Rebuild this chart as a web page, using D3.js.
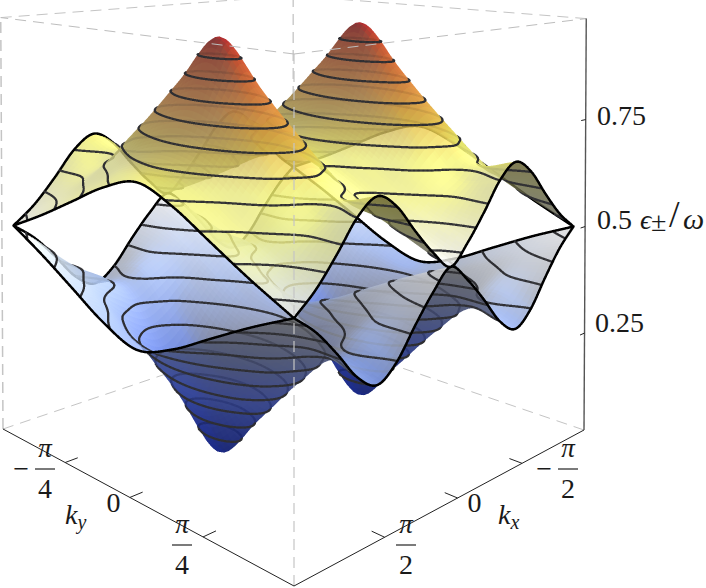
<!DOCTYPE html>
<html><head><meta charset="utf-8">
<script src="https://cdnjs.cloudflare.com/ajax/libs/d3/7.8.5/d3.min.js"></script>
<style>html,body{margin:0;padding:0;background:#fff}svg{display:block}text{font-family:"Liberation Serif",serif;fill:#1a1a1a}</style>
</head><body><div id="chart"></div>
<script>
// ---- data: energy on a kx / ky grid ----
const PI = Math.PI;
const kxValues = [-1,-.875,-.75,-.625,-.5,-.375,-.25,-.125,0,.125,.25,.375,.5,.625,.75,.875,1];   // units of pi
const kyValues = [-.5,-.375,-.25,-.125,0,.125,.25,.375,.5];                                       // units of pi
const upper0 = [.500,.540,.595,.655,.685,.655,.595,.540,.500,.540,.595,.655,.685,.655,.595,.540,.500];
const upper1 = [.545,.575,.610,.635,.665,.635,.610,.575,.545,.575,.610,.635,.665,.635,.610,.575,.545];
const upper2 = [.595,.625,.675,.725,.750,.725,.675,.625,.595,.625,.675,.725,.750,.725,.675,.625,.595];
const upper3 = [.645,.680,.735,.810,.860,.810,.735,.680,.645,.680,.735,.810,.860,.810,.735,.680,.645];
const upper4 = [.675,.700,.760,.860,.960,.860,.760,.700,.675,.700,.760,.860,.960,.860,.760,.700,.675];
const upper5 = [.645,.680,.735,.810,.860,.810,.735,.680,.645,.680,.735,.810,.860,.810,.735,.680,.645];
const upper6 = [.595,.625,.675,.725,.750,.725,.675,.625,.595,.625,.675,.725,.750,.725,.675,.625,.595];
const upper7 = [.545,.575,.610,.635,.665,.635,.610,.575,.545,.575,.610,.635,.665,.635,.610,.575,.545];
const upper8 = [.500,.540,.595,.655,.685,.655,.595,.540,.500,.540,.595,.655,.685,.655,.595,.540,.500];
const lower0 = [.500,.460,.405,.345,.315,.345,.405,.460,.500,.460,.405,.345,.315,.345,.405,.460,.500];
const lower1 = [.455,.425,.390,.365,.335,.365,.390,.425,.455,.425,.390,.365,.335,.365,.390,.425,.455];
const lower2 = [.405,.375,.325,.275,.250,.275,.325,.375,.405,.375,.325,.275,.250,.275,.325,.375,.405];
const lower3 = [.355,.320,.265,.190,.140,.190,.265,.320,.355,.320,.265,.190,.140,.190,.265,.320,.355];
const lower4 = [.325,.300,.240,.140,.040,.140,.240,.300,.325,.300,.240,.140,.040,.140,.240,.300,.325];
const lower5 = [.355,.320,.265,.190,.140,.190,.265,.320,.355,.320,.265,.190,.140,.190,.265,.320,.355];
const lower6 = [.405,.375,.325,.275,.250,.275,.325,.375,.405,.375,.325,.275,.250,.275,.325,.375,.405];
const lower7 = [.455,.425,.390,.365,.335,.365,.390,.425,.455,.425,.390,.365,.335,.365,.390,.425,.455];
const lower8 = [.500,.460,.405,.345,.315,.345,.405,.460,.500,.460,.405,.345,.315,.345,.405,.460,.500];
const meshLevels = [.0838,.1276,.1714,.2152,.2590,.3029,.3467,.3905,.4343,.4781,
                    .5219,.5657,.6095,.6533,.6971,.7410,.7848,.8286,.8724,.9162];
const zTicks = [.25,.5,.75];
const zTickLabels = ["0.25","0.5","0.75"];
const kxTicks = [-PI/2,0,PI/2];
const kyTicks = [-PI/4,0,PI/4];
const colorStops = [.04,.2,.35,.45,.5,.55,.6,.67,.73,.82,.92,.96];
const colorValues = ["#2c3caa","#5070dc","#a5bffa","#dde8ff","#ffffff","#ffffc4","#ffff8c","#ffff78","#f0d050","#e69040","#d2502d","#be282d"];
const underStops = [.04,.2,.35,.45,.5,.6,.68,.8,.96];
const underValues = ["#0a1978","#2c3c8c","#464e6e","#555864","#5f5f5a","#64643c","#5f5a28","#6e4a1e","#6e1e1e"];

// ---- layout ----
const W = 706, H = 588, SS = 3;
const P0 = [294,586], PX = [584,430], PY = [3,429], PZ = [294,54];
const wx = 1.294, wy = 1.294, wz = .99, zr = .8, surfaceAlpha = .8;

const X = d3.scaleLinear().domain([PI,-PI]).range([.02,.98]);
const Y = d3.scaleLinear().domain([PI/2,-PI/2]).range([.02,.98]);
const Z = d3.scaleLinear().domain([.0217,.985]).range([0,1]);
const color = d3.scaleLinear().domain(colorStops).range(colorValues).interpolate(d3.interpolateRgb);
const underColor = d3.scaleLinear().domain(underStops).range(underValues).interpolate(d3.interpolateRgb);

function project(a,b,c){
  const w = 1 + a*(wx-1) + b*(wy-1) + c*(wz-1);
  const hx = P0[0] + a*(wx*PX[0]-P0[0]) + b*(wy*PY[0]-P0[0]) + c*(wz*PZ[0]-P0[0]);
  const hy = P0[1] + a*(wx*PX[1]-P0[1]) + b*(wy*PY[1]-P0[1]) + c*(wz*PZ[1]-P0[1]);
  return [hx/w, hy/w];
}
const eye = (function(){
  const A = [[wx*PX[0]-P0[0], wy*PY[0]-P0[0], wz*PZ[0]-P0[0]],
             [wx*PX[1]-P0[1], wy*PY[1]-P0[1], wz*PZ[1]-P0[1]],
             [wx-1, wy-1, wz-1]];
  const r = [-P0[0], -P0[1], -1];
  const det = m => m[0][0]*(m[1][1]*m[2][2]-m[1][2]*m[2][1]) - m[0][1]*(m[1][0]*m[2][2]-m[1][2]*m[2][0]) + m[0][2]*(m[1][0]*m[2][1]-m[1][1]*m[2][0]);
  const D = det(A);
  return [0,1,2].map(k => det(A.map((row,i) => row.map((v,j) => j===k ? r[i] : v))) / D);
})();

// ---- smooth drawing mesh through the read values ----
function cr(a,b,c,d,t){ return .5*((2*b)+(-a+c)*t+(2*a-5*b+4*c-d)*t*t+(-a+3*b-3*c+d)*t*t*t); }
function refine(v,f){
  const out=[], n=v.length;
  for(let i=0;i<n-1;i++){
    const a = i>0 ? v[i-1] : 2*v[0]-v[1], d = i<n-2 ? v[i+2] : 2*v[n-1]-v[n-2];
    for(let k=0;k<f;k++) out.push(cr(a,v[i],v[i+1],d,k/f));
  }
  out.push(v[n-1]); return out;
}
const F = 8;
function refineGrid(rows){
  const r = rows.map(row => refine(row,F));
  const nx = r[0].length;
  const cols = d3.range(nx).map(i => refine(r.map(row => row[i]),F));
  return {nx, ny: cols[0].length, z:(i,j) => cols[i][j], cols};
}
const surfaces = [
  refineGrid([lower0,lower1,lower2,lower3,lower4,lower5,lower6,lower7,lower8]),
  refineGrid([upper0,upper1,upper2,upper3,upper4,upper5,upper6,upper7,upper8])
];
const kxFine = refine(kxValues,F).map(v=>v*PI), kyFine = refine(kyValues,F).map(v=>v*PI);

// ---- depth-sorted items ----
const dist = (a,b,c) => Math.hypot(a-eye[0], b-eye[1], (c-eye[2])*zr);
const items = [];
const L = (function(){ const v=[.55,-.55,.63], n=Math.hypot(...v); return v.map(d=>d/n); })();
surfaces.forEach(s => {
  const P = (i,j) => [X(kxFine[i]), Y(kyFine[j]), Z(s.z(i,j))];
  for(let i=0;i<s.nx-1;i++) for(let j=0;j<s.ny-1;j++){
    const a=P(i,j), b=P(i+1,j), c=P(i+1,j+1), d=P(i,j+1);
    const ux=c[0]-a[0],uy=c[1]-a[1],uz=(c[2]-a[2])*zr, vx=d[0]-b[0],vy=d[1]-b[1],vz=(d[2]-b[2])*zr;
    let nx=uy*vz-uz*vy, ny=uz*vx-ux*vz, nz=ux*vy-uy*vx;
    const m=Math.hypot(nx,ny,nz)||1; nx/=m;ny/=m;nz/=m; if(nz<0){nx=-nx;ny=-ny;nz=-nz;}
    const cx=(a[0]+c[0])/2, cy=(a[1]+c[1])/2, cz=(a[2]+b[2]+c[2]+d[2])/4;
    const face = nx*(eye[0]-cx)+ny*(eye[1]-cy)+nz*(eye[2]-cz)*zr;
    const lit = Math.max(0,nx*L[0]+ny*L[1]+nz*L[2]);
    const zval = (s.z(i,j)+s.z(i+1,j)+s.z(i+1,j+1)+s.z(i,j+1))/4;
    let R,G,B;
    if(face>0){
      const col=d3.rgb(color(zval));
      const lum=.3*col.r+.59*col.g+.11*col.b;
      const dim=Math.max(0,Math.min(1,(.48-lit)/.4))*(zval<.5?.75:.35);
      const shade=.82+.28*lit;
      R=(col.r+(lum-col.r)*dim)*shade; G=(col.g+(lum-col.g)*dim)*shade; B=(col.b+(lum-col.b)*dim)*shade;
    } else { const col=d3.rgb(underColor(zval)); R=col.r;G=col.g;B=col.b; }
    items.push({t:0, d:dist(cx,cy,cz), q:[project(...a),project(...b),project(...c),project(...d)],
      r:Math.min(255,R), g:Math.min(255,G), b:Math.min(255,B), a:surfaceAlpha});
  }
  const values = new Float64Array(s.nx*s.ny);
  for(let j=0;j<s.ny;j++) for(let i=0;i<s.nx;i++) values[i+j*s.nx]=s.z(i,j);
  const gen = d3.contours().size([s.nx,s.ny]).smooth(true);
  const gx = d3.scaleLinear().domain([.5,s.nx-.5]).range([-PI,PI]);
  const gy = d3.scaleLinear().domain([.5,s.ny-.5]).range([-PI/2,PI/2]);
  meshLevels.forEach(level => {
    const geo = gen.contour(values, level);
    geo.coordinates.forEach(poly => poly.forEach(ring => {
      for(let k=0;k<ring.length-1;k++){
        const p=ring[k], q=ring[k+1], e=1e-6;
        const out = u => u[0]<.5-e || u[0]>s.nx-.5+e || u[1]<.5-e || u[1]>s.ny-.5+e;
        if(out(p)||out(q)) continue;
        const A=[X(gx(p[0])),Y(gy(p[1])),Z(level)], B=[X(gx(q[0])),Y(gy(q[1])),Z(level)];
        items.push({t:1, d:dist((A[0]+B[0])/2,(A[1]+B[1])/2,A[2])-.022, a0:project(...A), b0:project(...B),
          w:1.15, r:46,g:46,b:50,a:.92});
      }
    }));
  });
  const edge=(A,B)=>items.push({t:1, d:dist((A[0]+B[0])/2,(A[1]+B[1])/2,(A[2]+B[2])/2)-.026, a0:project(...A), b0:project(...B), w:1.25, r:0,g:0,b:0,a:1});
  for(let i=0;i<s.nx-1;i++){ edge(P(i,0),P(i+1,0)); edge(P(i,s.ny-1),P(i+1,s.ny-1)); }
  for(let j=0;j<s.ny-1;j++){ edge(P(0,j),P(0,j+1)); edge(P(s.nx-1,j),P(s.nx-1,j+1)); }
});
items.sort((p,q)=>q.d-p.d);

// ---- supersampled raster so translucent cells have no seams ----
const BW=W*SS, BH=H*SS, buf=new Float32Array(BW*BH*4);
function blend(idx,r,g,b,a){ const ia=1-a; buf[idx]=r*a+buf[idx]*ia; buf[idx+1]=g*a+buf[idx+1]*ia; buf[idx+2]=b*a+buf[idx+2]*ia; buf[idx+3]=a+buf[idx+3]*ia; }
function tri(p,q,s,it){
  const x0=p[0]*SS,y0=p[1]*SS,x1=q[0]*SS,y1=q[1]*SS,x2=s[0]*SS,y2=s[1]*SS;
  const area=(x1-x0)*(y2-y0)-(y1-y0)*(x2-x0); if(area===0) return; const sg=area>0?1:-1;
  const minX=Math.max(0,Math.floor(Math.min(x0,x1,x2))), maxX=Math.min(BW-1,Math.ceil(Math.max(x0,x1,x2)));
  const minY=Math.max(0,Math.floor(Math.min(y0,y1,y2))), maxY=Math.min(BH-1,Math.ceil(Math.max(y0,y1,y2)));
  for(let y=minY;y<=maxY;y++) for(let x=minX;x<=maxX;x++){
    const px=x+.5,py=y+.5;
    if(sg*((x1-x0)*(py-y0)-(y1-y0)*(px-x0))>0 && sg*((x2-x1)*(py-y1)-(y2-y1)*(px-x1))>0 && sg*((x0-x2)*(py-y2)-(y0-y2)*(px-x2))>0)
      blend((x+y*BW)*4,it.r,it.g,it.b,it.a);
  }
}
function capsule(it){
  const ax=it.a0[0]*SS,ay=it.a0[1]*SS,bx=it.b0[0]*SS,by=it.b0[1]*SS,rad=it.w*SS;
  const dx=bx-ax,dy=by-ay,len2=dx*dx+dy*dy||1e-9;
  const minX=Math.max(0,Math.floor(Math.min(ax,bx)-rad)),maxX=Math.min(BW-1,Math.ceil(Math.max(ax,bx)+rad));
  const minY=Math.max(0,Math.floor(Math.min(ay,by)-rad)),maxY=Math.min(BH-1,Math.ceil(Math.max(ay,by)+rad));
  for(let y=minY;y<=maxY;y++) for(let x=minX;x<=maxX;x++){
    const px=x+.5-ax,py=y+.5-ay; let t=(px*dx+py*dy)/len2; t=t<0?0:t>1?1:t;
    const ex=px-t*dx,ey=py-t*dy;
    if(ex*ex+ey*ey<=rad*rad) blend((x+y*BW)*4,it.r,it.g,it.b,it.a);
  }
}
items.forEach(it=>{ if(it.t===0){ tri(it.q[0],it.q[1],it.q[2],it); tri(it.q[0],it.q[2],it.q[3],it);} else capsule(it); });
const canvas=document.createElement("canvas"); canvas.width=W; canvas.height=H;
const ctx=canvas.getContext("2d"), img=ctx.createImageData(W,H);
for(let y=0;y<H;y++) for(let x=0;x<W;x++){
  let r=0,g=0,b=0,a=0;
  for(let v=0;v<SS;v++) for(let u=0;u<SS;u++){ const i=((x*SS+u)+(y*SS+v)*BW)*4; r+=buf[i];g+=buf[i+1];b+=buf[i+2];a+=buf[i+3]; }
  const k=(x+y*W)*4, n=SS*SS;
  if(a>0){ img.data[k]=r/a; img.data[k+1]=g/a; img.data[k+2]=b/a; img.data[k+3]=255*a/n; }
}
ctx.putImageData(img,0,0);

// ---- svg: box, surface image, axes, text ----
const svg=d3.select("#chart").append("svg").attr("width",W).attr("height",H).attr("viewBox",[0,0,W,H]);
const line=d3.line();
const seg=(g,a,b,col,w,dash)=>g.append("path").attr("d",line([project(...a),project(...b)])).attr("fill","none").attr("stroke",col).attr("stroke-width",w).attr("stroke-dasharray",dash||null);
const back=svg.append("g");
const D1="11 7";
seg(back,[1,0,1],[1,1,1],"#c4c4c4",1,D1);
seg(back,[0,1,1],[1,1,1],"#c4c4c4",1,D1);
seg(back,[1,1,0],[1,1,1],"#c4c4c4",1.3,D1);
seg(back,[1,0,0],[1,1,0],"#c4c4c4",1,D1);
seg(back,[0,1,0],[1,1,0],"#c4c4c4",1,D1);
seg(back,[0,1,0],[0,1,1],"#c4c4c4",1.5,D1);
svg.append("image").attr("width",W).attr("height",H).attr("href",canvas.toDataURL("image/png"));
const front=svg.append("g");
seg(front,[0,0,0],[0,0,1],"#c4c4c4",1.5,D1).attr("opacity",.8);
seg(front,[0,0,1],[1,0,1],"#bdbdbd",1,D1);
seg(front,[0,0,1],[0,1,1],"#bdbdbd",1,D1);
seg(front,[0,0,0],[1,0,0],"#222",1);
seg(front,[0,0,0],[0,1,0],"#222",1);
seg(front,[1,0,0],[1,0,1],"#555",1.4);
kxTicks.forEach(k=>seg(front,[X(k),0,0],[X(k),.035,0],"#222",1));
kyTicks.forEach(k=>seg(front,[0,Y(k),0],[.035,Y(k),0],"#222",1));
zTicks.forEach(z=>seg(front,[1,0,Z(z)],[.98,0,Z(z)],"#222",1));

const FS=28;
const txt=(x,y,s,o={})=>front.append("text").attr("x",x).attr("y",y).attr("font-size",o.size||FS).attr("font-style",o.it?"italic":null).attr("text-anchor",o.anchor||"start").text(s);
txt(597,125,zTickLabels[2]);
txt(597,229,zTickLabels[1]);
txt(595,332,zTickLabels[0]);
const eps=front.append("text").attr("y",229).attr("font-size",FS);
eps.append("tspan").attr("x",640).attr("font-style","italic").text("ϵ");
eps.append("tspan").attr("x",651).attr("y",231).text("±");
eps.append("tspan").attr("x",669).attr("y",227).attr("font-size",38).text("/");
eps.append("tspan").attr("x",683).attr("y",229).attr("font-size",30).attr("font-style","italic").text("ω");
function frac(cx,top,den,minus){
  txt(cx,top,"π",{it:1,anchor:"middle",size:27});
  front.append("line").attr("x1",cx-10).attr("x2",cx+10).attr("y1",top+12).attr("y2",top+12).attr("stroke","#222").attr("stroke-width",1.2);
  txt(cx,top+41,den,{anchor:"middle"});
  if(minus) txt(cx-16,top+21,"−",{anchor:"end",size:28});
}
frac(45,457,"4",true);
frac(182,533,"4",false);
frac(568,457,"2",true);
frac(406,533,"2",false);
txt(113.5,512,"0",{anchor:"middle"});
txt(474.5,512,"0",{anchor:"middle"});
const kl=(x,sub)=>{ const t=front.append("text").attr("x",x).attr("y",524).attr("font-size",FS).attr("font-style","italic");
  t.append("tspan").text("k"); t.append("tspan").attr("font-size",20).attr("dy",5).text(sub); };
kl(65,"y"); kl(498,"x");
</script></body></html>
